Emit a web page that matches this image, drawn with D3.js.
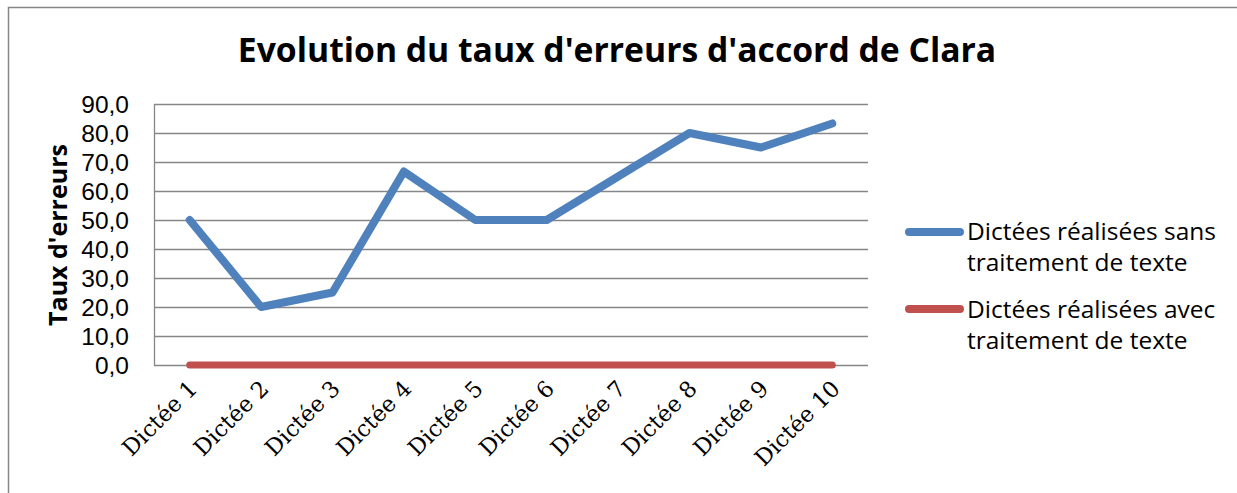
<!DOCTYPE html>
<html><head><meta charset="utf-8">
<script src="https://cdn.jsdelivr.net/npm/d3@7"></script>
<style>body{margin:0;background:#fff}svg{display:block}</style>
</head><body>
<svg id="c" width="1237" height="493"></svg>
<script>
const categories = ["Dictée 1","Dictée 2","Dictée 3","Dictée 4","Dictée 5","Dictée 6","Dictée 7","Dictée 8","Dictée 9","Dictée 10"];
const seriesSans = [50, 20, 25, 66.7, 50, 50, 65, 80, 75, 83.3];
const seriesAvec = [0, 0, 0, 0, 0, 0, 0, 0, 0, 0];
const seriesNames = ["Dictées réalisées sans|traitement de texte", "Dictées réalisées avec|traitement de texte"];
const yTicks = [0,10,20,30,40,50,60,70,80,90];
const title = "Evolution du taux d'erreurs d'accord de Clara";
const yTitle = "Taux d'erreurs";

const svg = d3.select("#c");
// outer frame
svg.append("path").attr("d","M8.5,493 L8.5,7.5 L1237,7.5").attr("fill","none").attr("stroke","#868686").attr("stroke-width",1.5);

const L=154, R=868, T=104, B=365;
const x = d3.scaleBand().domain(categories).range([L,R]);
const y = d3.scaleLinear().domain([0,90]).range([B,T]);

// gridlines
svg.append("g").selectAll("line").data(yTicks).join("line")
  .attr("x1",L).attr("x2",R).attr("y1",d=>Math.round(y(d))+0.5).attr("y2",d=>Math.round(y(d))+0.5)
  .attr("stroke","#868686").attr("stroke-width",1.3);
// y axis line
svg.append("line").attr("x1",L+0.5).attr("x2",L+0.5).attr("y1",T).attr("y2",B+0.5).attr("stroke","#868686").attr("stroke-width",1.3);

// y labels
const yAxis = d3.axisLeft(y).tickValues(yTicks).tickSize(0).tickPadding(25).tickFormat(d=>d3.format(".1f")(d).replace(".",","));
const gy = svg.append("g").attr("transform",`translate(${L},0)`).call(yAxis);
gy.select(".domain").remove();
gy.selectAll("text").attr("font-family","'Liberation Sans', sans-serif").attr("font-size",24.5).attr("fill","#000").attr("dy","0.36em");

// x labels
const gx = svg.append("g").attr("transform",`translate(0,${B})`)
  .call(d3.axisBottom(x).tickSize(0).tickPadding(0));
gx.select(".domain").remove();
gx.selectAll("text")
  .attr("font-family","'DejaVu Serif', serif").attr("font-size",22.5).attr("fill","#000")
  .attr("text-anchor","end").attr("dy",0).attr("y",0)
  .attr("transform","translate(9,25) rotate(-45)");

// lines
const line = d3.line().x((d,i)=>x(categories[i])+x.bandwidth()/2).y(d=>y(d));
svg.append("path").datum(seriesAvec).attr("d",line).attr("fill","none").attr("stroke","#c0504d").attr("stroke-width",7).attr("stroke-linecap","round").attr("stroke-linejoin","round");
svg.append("path").datum(seriesSans).attr("d",line).attr("fill","none").attr("stroke","#4f81bd").attr("stroke-width",8).attr("stroke-linecap","round").attr("stroke-linejoin","round");

// title
svg.append("text").attr("x",617).attr("y",62).attr("text-anchor","middle")
  .attr("font-family","'Open Sans', sans-serif").attr("font-weight","bold").attr("font-size",33.7).text(title);

// y title
svg.append("text").attr("transform","translate(67,235) rotate(-90)").attr("text-anchor","middle")
  .attr("font-family","'Open Sans', sans-serif").attr("font-weight","bold").attr("font-size",25).text(yTitle);

// legend
const colors = ["#4f81bd","#c0504d"];
const legY = [232, 309];
const legText = [240, 318];
seriesNames.forEach((n,i)=>{
  svg.append("line").attr("x1",909).attr("x2",960).attr("y1",legY[i]).attr("y2",legY[i])
    .attr("stroke",colors[i]).attr("stroke-width",8).attr("stroke-linecap","round");
  const t = svg.append("text").attr("font-family","'Open Sans', sans-serif").attr("font-size",24.5).attr("fill","#000");
  n.split("|").forEach((s,j)=>{
    t.append("tspan").attr("x",967).attr("y",legText[i]+j*31).text(s);
  });
});
</script>
</body></html>
